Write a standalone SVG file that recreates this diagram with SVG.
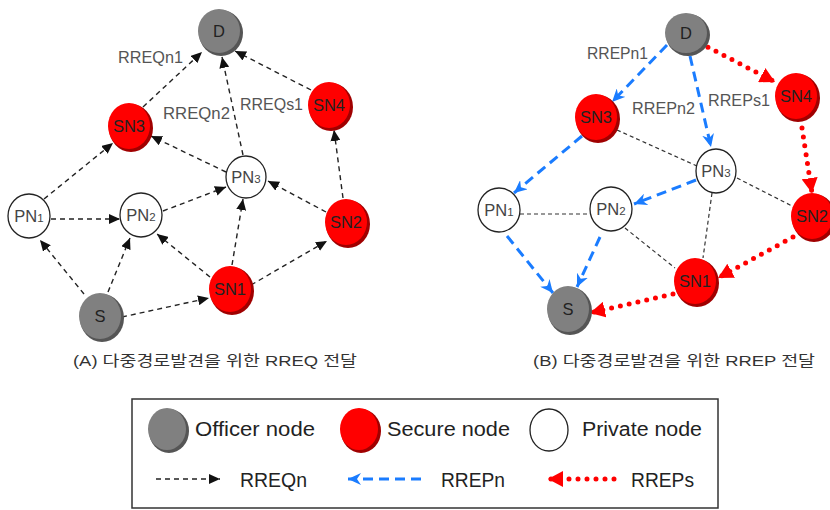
<svg xmlns="http://www.w3.org/2000/svg" width="830" height="510" viewBox="0 0 830 510">
<style>
text{font-family:"Liberation Sans","Noto Sans CJK KR",sans-serif}
.nl{font-size:16.5px;fill:#222;text-anchor:middle}
.pl{font-size:16.5px;fill:#444;text-anchor:middle}
.sub{font-size:11.5px}
.el{font-size:16px;fill:#555}
.cap{font-size:15px;fill:#333}
.lg{font-size:20px;fill:#222}
.gs{fill:#555}.g{fill:#808080}
.rs{fill:#a00000}.r{fill:#ff0000}
.w{fill:#fff;stroke:#222;stroke-width:1.3}
.bk{fill:none;stroke:#222;stroke-width:1.4;stroke-dasharray:5 4}
.bkt{fill:none;stroke:#333;stroke-width:1.2;stroke-dasharray:4 3}
.bl{fill:none;stroke:#1a7cff;stroke-width:3;stroke-dasharray:10 6}
.rd{fill:none;stroke:#ff0000;stroke-width:5;stroke-linecap:round;stroke-dasharray:0 9}
</style>
<defs>
<marker id="ab" markerUnits="userSpaceOnUse" markerWidth="12" markerHeight="10" refX="11" refY="5" orient="auto"><path d="M0,0 L11,5 L0,10 z" fill="#111"/></marker>
<marker id="abl" markerUnits="userSpaceOnUse" markerWidth="14" markerHeight="12" refX="13" refY="6" orient="auto"><path d="M0,0 L13,6 L0,12 L4,6 z" fill="#1a7cff"/></marker>
<marker id="ar" markerUnits="userSpaceOnUse" markerWidth="16" markerHeight="16" refX="15" refY="8" orient="auto"><path d="M0,0 L15,8 L0,16 z" fill="#ff0000"/></marker>
</defs>
<g id="connectors">
<path class="bk" d="M143,107 L202,52" marker-end="url(#ab)"/>
<path class="bk" d="M243,155 L222,57" marker-end="url(#ab)"/>
<path class="bk" d="M311,90 L235,51" marker-end="url(#ab)"/>
<path class="bk" d="M226,172 L151,136" marker-end="url(#ab)"/>
<path class="bk" d="M343,198 L334,130" marker-end="url(#ab)"/>
<path class="bk" d="M44,199 L113,143" marker-end="url(#ab)"/>
<path class="bk" d="M51,219 L120,219" marker-end="url(#ab)"/>
<path class="bk" d="M163,211 L226,187" marker-end="url(#ab)"/>
<path class="bk" d="M326,212 L268,181" marker-end="url(#ab)"/>
<path class="bk" d="M232,265 L243,199" marker-end="url(#ab)"/>
<path class="bk" d="M210,277 L157,234" marker-end="url(#ab)"/>
<path class="bk" d="M251,285 L327,241" marker-end="url(#ab)"/>
<path class="bk" d="M84,294 L40,240" marker-end="url(#ab)"/>
<path class="bk" d="M108,292 L130,238" marker-end="url(#ab)"/>
<path class="bk" d="M122,317 L209,298" marker-end="url(#ab)"/>
<path class="bkt" d="M617,130 L697,166"/>
<path class="bkt" d="M737,178 L792,206"/>
<path class="bkt" d="M520,214 L590,214"/>
<path class="bkt" d="M625,228 L675,268"/>
<path class="bkt" d="M712,193 L703,258"/>
<path class="bl" d="M667,45 L612,102" marker-end="url(#abl)"/>
<path class="bl" d="M690,56 L711,147" marker-end="url(#abl)"/>
<path class="bl" d="M582,136 L514,193" marker-end="url(#abl)"/>
<path class="bl" d="M696,180 L634,204" marker-end="url(#abl)"/>
<path class="bl" d="M507,236 L553,293" marker-end="url(#abl)"/>
<path class="bl" d="M600,237 L577,287" marker-end="url(#abl)"/>
<path class="rd" d="M700,43 L775,82" marker-end="url(#ar)"/>
<path class="rd" d="M802,128 L812,193" marker-end="url(#ar)"/>
<path class="rd" d="M793,237 L718,278" marker-end="url(#ar)"/>
<path class="rd" d="M673,294 L590,313" marker-end="url(#ar)"/>
</g>
<g id="A_D"><ellipse class="gs" cx="221" cy="33" rx="22" ry="23"/><ellipse class="g" cx="219" cy="31" rx="21" ry="22"/><text class="nl" x="219" y="37">D</text></g>
<g id="A_SN3"><ellipse class="rs" cx="131" cy="128" rx="22" ry="24"/><ellipse class="r" cx="129" cy="126" rx="21" ry="23"/><text class="nl" x="129" y="132">SN3</text></g>
<g id="A_SN4"><ellipse class="rs" cx="331" cy="107" rx="22" ry="24"/><ellipse class="r" cx="329" cy="105" rx="21" ry="23"/><text class="nl" x="329" y="111">SN4</text></g>
<g id="A_PN3"><ellipse class="w" cx="246" cy="177" rx="20" ry="21"/><text class="pl" x="246" y="183">PN<tspan class="sub">3</tspan></text></g>
<g id="A_PN1"><ellipse class="w" cx="29" cy="216" rx="21" ry="22"/><text class="pl" x="29" y="222">PN<tspan class="sub">1</tspan></text></g>
<g id="A_PN2"><ellipse class="w" cx="141" cy="215" rx="21" ry="22"/><text class="pl" x="141" y="221">PN<tspan class="sub">2</tspan></text></g>
<g id="A_SN2"><ellipse class="rs" cx="348" cy="224" rx="22" ry="24"/><ellipse class="r" cx="346" cy="222" rx="21" ry="23"/><text class="nl" x="346" y="228">SN2</text></g>
<g id="A_SN1"><ellipse class="rs" cx="232" cy="291" rx="22" ry="24"/><ellipse class="r" cx="230" cy="289" rx="21" ry="23"/><text class="nl" x="230" y="295">SN1</text></g>
<g id="A_S"><ellipse class="gs" cx="102" cy="318" rx="22" ry="24"/><ellipse class="g" cx="100" cy="316" rx="21" ry="23"/><text class="nl" x="100" y="322">S</text></g>
<g id="B_D"><ellipse class="gs" cx="688" cy="35" rx="22" ry="21"/><ellipse class="g" cx="686" cy="33" rx="21" ry="20"/><text class="nl" x="686" y="39">D</text></g>
<g id="B_SN3"><ellipse class="rs" cx="598" cy="119" rx="22" ry="24"/><ellipse class="r" cx="596" cy="117" rx="21" ry="23"/><text class="nl" x="596" y="123">SN3</text></g>
<g id="B_SN4"><ellipse class="rs" cx="798" cy="98" rx="22" ry="24"/><ellipse class="r" cx="796" cy="96" rx="21" ry="23"/><text class="nl" x="796" y="102">SN4</text></g>
<g id="B_PN3"><ellipse class="w" cx="716" cy="171" rx="20" ry="22"/><text class="pl" x="716" y="177">PN<tspan class="sub">3</tspan></text></g>
<g id="B_PN1"><ellipse class="w" cx="499" cy="210" rx="21" ry="22"/><text class="pl" x="499" y="216">PN<tspan class="sub">1</tspan></text></g>
<g id="B_PN2"><ellipse class="w" cx="611" cy="209" rx="21" ry="22"/><text class="pl" x="611" y="215">PN<tspan class="sub">2</tspan></text></g>
<g id="B_SN2"><ellipse class="rs" cx="814" cy="218" rx="22" ry="24"/><ellipse class="r" cx="812" cy="216" rx="21" ry="23"/><text class="nl" x="812" y="222">SN2</text></g>
<g id="B_SN1"><ellipse class="rs" cx="697" cy="283" rx="22" ry="24"/><ellipse class="r" cx="695" cy="281" rx="21" ry="23"/><text class="nl" x="695" y="287">SN1</text></g>
<g id="B_S"><ellipse class="gs" cx="570" cy="311" rx="22" ry="24"/><ellipse class="g" cx="568" cy="309" rx="21" ry="23"/><text class="nl" x="568" y="315">S</text></g>
<g id="labels">
<text class="el" x="118" y="63" textLength="65" lengthAdjust="spacingAndGlyphs">RREQn1</text>
<text class="el" x="163" y="119" textLength="67" lengthAdjust="spacingAndGlyphs">RREQn2</text>
<text class="el" x="240" y="110" textLength="63" lengthAdjust="spacingAndGlyphs">RREQs1</text>
<text class="el" x="587" y="59" textLength="61" lengthAdjust="spacingAndGlyphs">RREPn1</text>
<text class="el" x="632" y="114" textLength="63" lengthAdjust="spacingAndGlyphs">RREPn2</text>
<text class="el" x="708" y="106" textLength="62" lengthAdjust="spacingAndGlyphs">RREPs1</text>
<text class="cap" x="73" y="366" textLength="284" lengthAdjust="spacingAndGlyphs">(A) 다중경로발견을 위한 RREQ 전달</text>
<text class="cap" x="533" y="366" textLength="282" lengthAdjust="spacingAndGlyphs">(B) 다중경로발견을 위한 RREP 전달</text>
</g>
<g id="legend">
<rect x="132" y="399" width="586" height="109" fill="#fff" stroke="#333" stroke-width="1.5"/>
<ellipse class="gs" cx="169" cy="431" rx="20" ry="22"/><ellipse class="g" cx="167" cy="429" rx="19" ry="21"/>
<text class="lg" x="195" y="436" textLength="120" lengthAdjust="spacingAndGlyphs">Officer node</text>
<ellipse class="rs" cx="361" cy="431" rx="20" ry="22"/><ellipse class="r" cx="359" cy="429" rx="19" ry="21"/>
<text class="lg" x="387" y="436" textLength="123" lengthAdjust="spacingAndGlyphs">Secure node</text>
<ellipse class="w" cx="549" cy="430" rx="19" ry="21"/>
<text class="lg" x="582" y="436" textLength="120" lengthAdjust="spacingAndGlyphs">Private node</text>
<path class="bk" d="M156,479 L220,479" marker-end="url(#ab)"/>
<text class="lg" x="240" y="487" textLength="67" lengthAdjust="spacingAndGlyphs">RREQn</text>
<path class="bl" d="M421,479 L348,479" marker-end="url(#abl)"/>
<text class="lg" x="441" y="487" textLength="64" lengthAdjust="spacingAndGlyphs">RREPn</text>
<path class="rd" d="M614,479 L548,479" marker-end="url(#ar)"/>
<text class="lg" x="631" y="487" textLength="63" lengthAdjust="spacingAndGlyphs">RREPs</text>
</g>
</svg>
